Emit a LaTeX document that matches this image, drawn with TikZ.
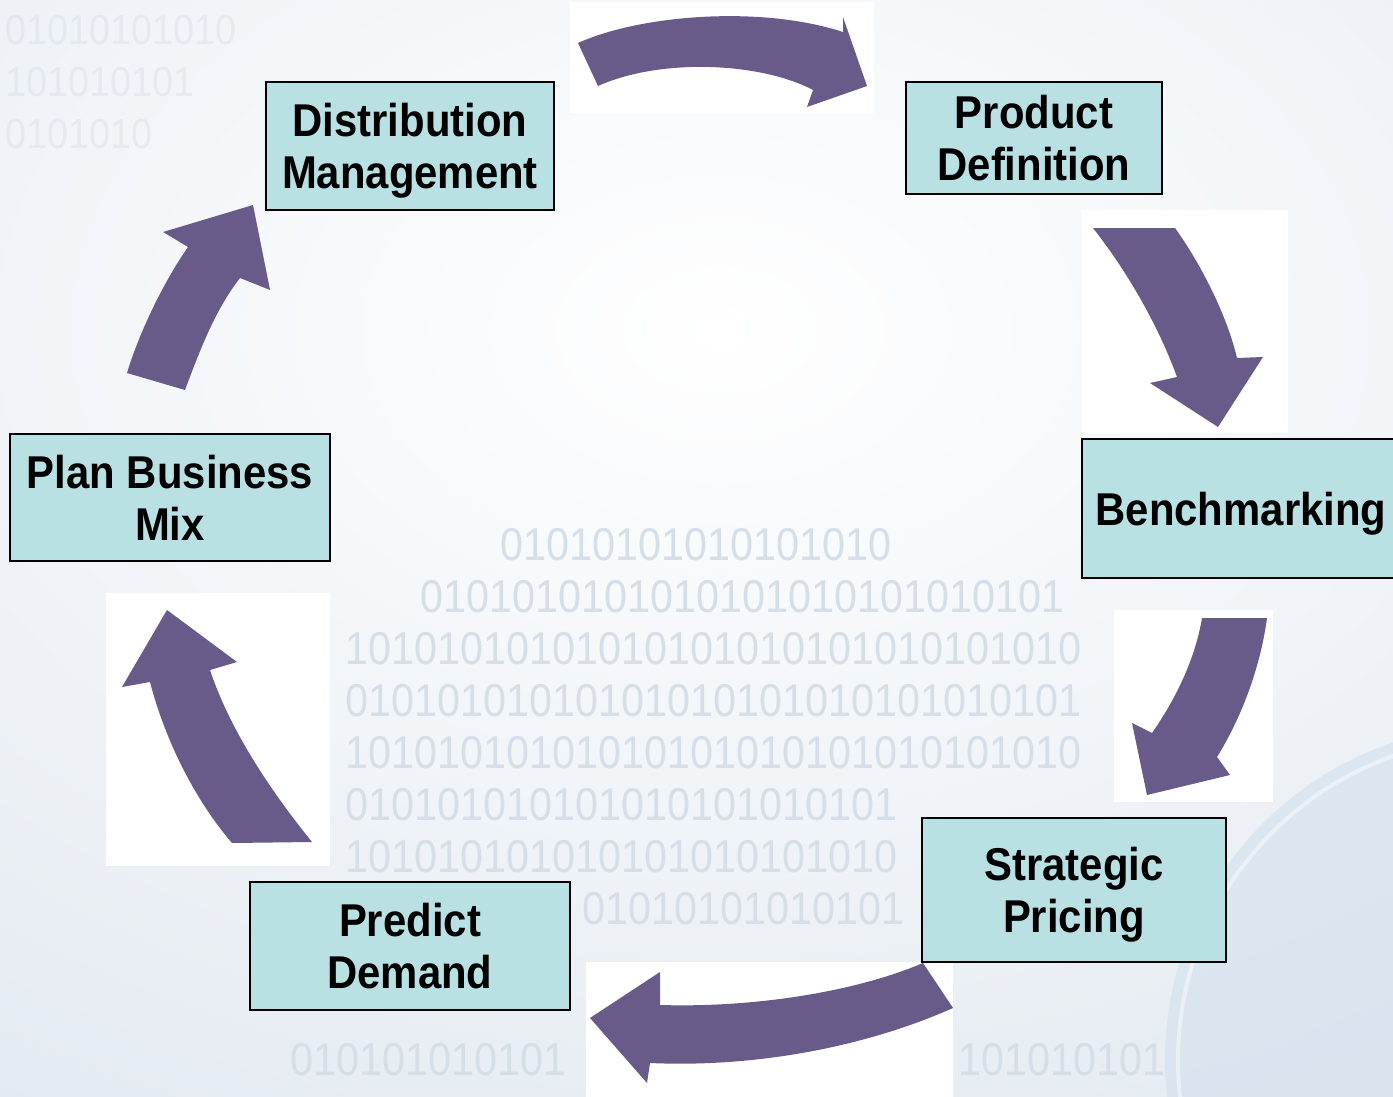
\documentclass[tikz,border=0pt]{standalone}
\usepackage{fontspec}
\setmainfont{Liberation Sans}[FakeStretch=0.91]
\newfontfamily\digitfont{Liberation Sans}[FakeStretch=0.9]
\definecolor{boxfill}{HTML}{B9E0E3}
\definecolor{arrowfill}{HTML}{685B8A}
\definecolor{bgbase}{HTML}{E1E8F0}
\definecolor{digitcol}{HTML}{D6DEE8}
\definecolor{globecol}{HTML}{D2E0EE}

\begin{document}
\begin{tikzpicture}[x=1pt,y=-1pt,
  stagebox/.style={draw=black, line width=2.2pt, fill=boxfill, inner sep=0pt,
    align=center, text depth=0pt, font=\fontsize{46}{52}\selectfont\bfseries},
  bendarrow/.style={fill=arrowfill},
  cutout/.style={fill=white},
  bits/.style={text=digitcol, font=\digitfont\fontsize{46}{46}\selectfont,
    anchor=base west, inner sep=0pt},
  smallbits/.style={text=digitcol, font=\digitfont\fontsize{42}{42}\selectfont,
    anchor=base west, inner sep=0pt, opacity=0.45}]

\useasboundingbox (0,0) rectangle (1393,1097);

% ---------- backdrop ----------
\begin{scope}
  \clip (0,0) rectangle (1393,1097);
  \fill[bgbase] (0,0) rectangle (1393,1097);
  \shade[inner color=white, outer color=bgbase] (720,330) ellipse [x radius=1500, y radius=1000];

  % globe outline, lower right
  \fill[globecol, opacity=0.6] (1500,1060) circle (335);
  \draw[white, opacity=0.45, line width=4pt] (1500,1060) circle (322);
\end{scope}

% faint binary texture in the lower middle (one row per baseline)
\node[bits] (bitsA) at (500,560)  {01010101010101010};
\node[bits] (bitsB) at (420,612)  {0101010101010101010101010101};
\node[bits] (bitsC) at (345,664)  {10101010101010101010101010101010};
\node[bits] (bitsD) at (345,716)  {01010101010101010101010101010101};
\node[bits] (bitsE) at (345,768)  {10101010101010101010101010101010};
\node[bits] (bitsF) at (345,820)  {010101010101010101010101};
\node[bits] (bitsG) at (345,872)  {101010101010101010101010};
\node[bits] (bitsH) at (582,924)  {01010101010101};
\node[bits] (bitsJ) at (290,1075) {010101010101};
\node[bits] (bitsK) at (958,1075) {101010101};

% faint binary texture in the top left corner
\node[smallbits] (cornerA) at (5,45)  {01010101010};
\node[smallbits] (cornerB) at (5,97)  {101010101};
\node[smallbits] (cornerC) at (5,149) {0101010};

% ---------- white panels behind the arrows ----------
\fill[cutout] (570,2) rectangle (874,113);
\fill[cutout] (1082,210) rectangle (1288,433);
\fill[cutout] (1114,610) rectangle (1273,802);
\fill[cutout] (586,962) rectangle (953,1097);
\fill[cutout] (106,593) rectangle (330,866);

% ---------- curved block arrows ----------
% Distribution Management -> Product Definition
\fill[bendarrow] (578,43) .. controls (640,15) and (760,5) .. (843,32)
  -- (843,17) -- (867,86) -- (807,107) -- (813,90)
  .. controls (760,62) and (660,58) .. (598,86) -- cycle;
% Product Definition -> Benchmarking
\fill[bendarrow] (1093,228) -- (1175,228)
  .. controls (1205,270) and (1228,320) .. (1237,358)
  -- (1263,357) -- (1218,427) -- (1150,383) -- (1177,377)
  .. controls (1160,330) and (1130,275) .. (1093,228) -- cycle;
% Benchmarking -> Strategic Pricing
\fill[bendarrow] (1202,618) -- (1267,618)
  .. controls (1260,670) and (1240,720) .. (1217,757)
  -- (1230,775) -- (1147,795) -- (1132,723) -- (1152,733)
  .. controls (1175,700) and (1195,660) .. (1202,618) -- cycle;
% Strategic Pricing -> Predict Demand
\fill[bendarrow] (923,963) .. controls (860,990) and (760,1008) .. (660,1005)
  -- (660,972) -- (590,1018) -- (647,1083) -- (650,1063)
  .. controls (760,1068) and (870,1045) .. (953,1008) -- cycle;
% Predict Demand -> Plan Business Mix
\fill[bendarrow] (232,843) -- (312,842)
  .. controls (270,790) and (230,730) .. (210,670)
  -- (237,662) -- (167,610) -- (122,687) -- (150,682)
  .. controls (165,740) and (195,800) .. (232,843) -- cycle;
% Plan Business Mix -> Distribution Management
\fill[bendarrow] (127,373) -- (185,390)
  .. controls (200,350) and (215,310) .. (240,278)
  -- (270,290) -- (253,205) -- (163,232) -- (188,247)
  .. controls (165,280) and (140,330) .. (127,373) -- cycle;

% ---------- stages ----------
\node[stagebox, minimum width=288, minimum height=128] (dist)  at (410,146)   {Distribution\\Management};
\node[stagebox, minimum width=256, minimum height=112] (prod)  at (1034,138)  {Product\\Definition};
\node[stagebox, minimum width=318, minimum height=139] (bench) at (1241,508.5) {Benchmarking};
\node[stagebox, minimum width=304, minimum height=144] (strat) at (1074,890)  {Strategic\\Pricing};
\node[stagebox, minimum width=320, minimum height=128] (pred)  at (410,946)   {Predict\\Demand};
\node[stagebox, minimum width=320, minimum height=127] (plan)  at (170,497.5) {Plan Business\\Mix};

\end{tikzpicture}
\end{document}
